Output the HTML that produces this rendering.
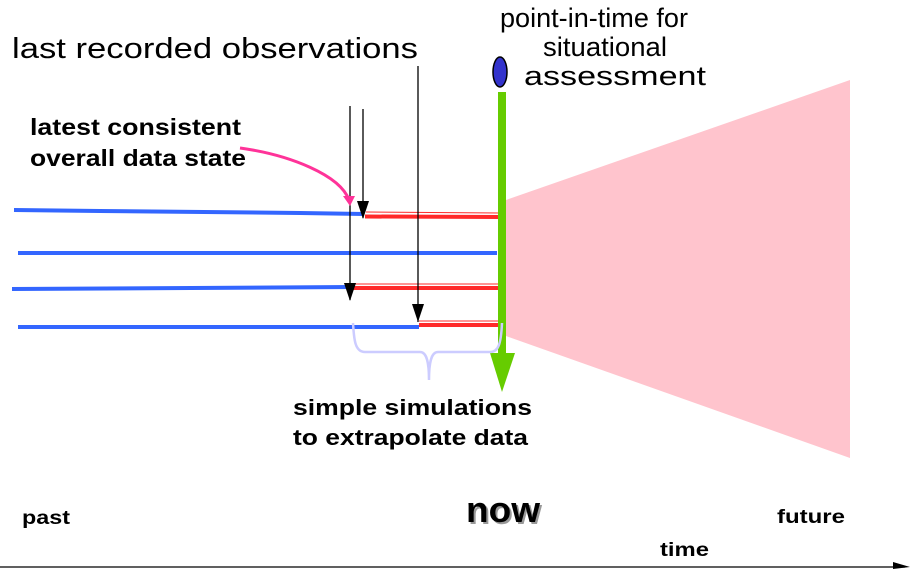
<!DOCTYPE html>
<html><head><style>html,body{margin:0;padding:0;background:#fff;}svg{display:block}</style></head>
<body>
<svg width="912" height="569" viewBox="0 0 912 569" xmlns="http://www.w3.org/2000/svg" font-family="Liberation Sans, sans-serif">
<polygon points="506,200 850,80 850,458 506,336" fill="#ffc4cd"/>
<g stroke="#3366ff" stroke-width="4" fill="none">
<polyline points="14,210 100,211 300,213 364,214"/>
<line x1="18" y1="253" x2="497" y2="253"/>
<line x1="12" y1="289" x2="352" y2="287"/>
<line x1="18" y1="327" x2="419" y2="327"/>
</g>
<g stroke="#ff2a2a" fill="none">
<line x1="365" y1="216.5" x2="500" y2="217" stroke-width="4"/>
<line x1="366" y1="212" x2="500" y2="213" stroke-width="1"/>
<line x1="352" y1="288" x2="498" y2="288" stroke-width="4"/>
<line x1="355" y1="284" x2="498" y2="284" stroke-width="1"/>
<line x1="419" y1="325" x2="498" y2="325" stroke-width="4"/>
<line x1="419" y1="321" x2="498" y2="321" stroke-width="1"/>
</g>
<rect x="498" y="92" width="8" height="272" fill="#66cc00"/>
<polygon points="490,353 515,353 502,392" fill="#66cc00"/>
<ellipse cx="500" cy="72" rx="7" ry="15" fill="#3333cc" stroke="#000" stroke-width="1.5"/>
<g stroke="#000" stroke-width="1.3">
<line x1="350" y1="106" x2="350" y2="300"/>
<line x1="363" y1="109" x2="363" y2="218"/>
<line x1="418" y1="66" x2="418" y2="322"/>
</g>
<g fill="#000">
<polygon points="344,283 356,283 350,301"/>
<polygon points="357,201 369,201 363,219"/>
<polygon points="412,304 424,304 418,322"/>
</g>
<path d="M240,148 C290,155 340,175 349,200" stroke="#ff3399" stroke-width="3" fill="none"/>
<polygon points="343,196 355,196 350,206" fill="#ff3399"/>
<path d="M353,323 C354,340 355,352 365,352 L420,352 C426,352 429,360 429,380 C429,360 432,352 438,352 L490,352 C498,352 501,345 502,323" stroke="#ccccff" stroke-width="2.5" fill="none"/>
<line x1="0" y1="567" x2="905" y2="567" stroke="#000" stroke-width="1.3"/>
<polygon points="893,562 910,567 893,569" fill="#000"/>
<g fill="#000">
<text x="12" y="58" font-size="29" textLength="406" lengthAdjust="spacingAndGlyphs">last recorded observations</text>
<text x="500" y="27" font-size="27" textLength="188" lengthAdjust="spacingAndGlyphs">point-in-time for</text>
<text x="543" y="56" font-size="27" textLength="124" lengthAdjust="spacingAndGlyphs">situational</text>
<text x="524" y="85" font-size="27" textLength="182" lengthAdjust="spacingAndGlyphs">assessment</text>
</g>
<g font-weight="bold" fill="#000">
<text x="30" y="135" font-size="23" textLength="211" lengthAdjust="spacingAndGlyphs">latest consistent</text>
<text x="30" y="166" font-size="23" textLength="216" lengthAdjust="spacingAndGlyphs">overall data state</text>
<text x="293" y="415" font-size="22" textLength="239" lengthAdjust="spacingAndGlyphs">simple simulations</text>
<text x="293" y="445" font-size="22" textLength="235" lengthAdjust="spacingAndGlyphs">to extrapolate data</text>
<text x="22" y="524" font-size="19" textLength="48" lengthAdjust="spacingAndGlyphs">past</text>
<text x="777" y="523" font-size="19" textLength="68" lengthAdjust="spacingAndGlyphs">future</text>
<text x="660" y="556" font-size="19" textLength="49" lengthAdjust="spacingAndGlyphs">time</text>
<text x="468" y="524" font-size="36" fill="#999" textLength="74" lengthAdjust="spacingAndGlyphs">now</text>
<text x="466" y="522" font-size="36" textLength="74" lengthAdjust="spacingAndGlyphs">now</text>
</g>
</svg>
</body></html>
